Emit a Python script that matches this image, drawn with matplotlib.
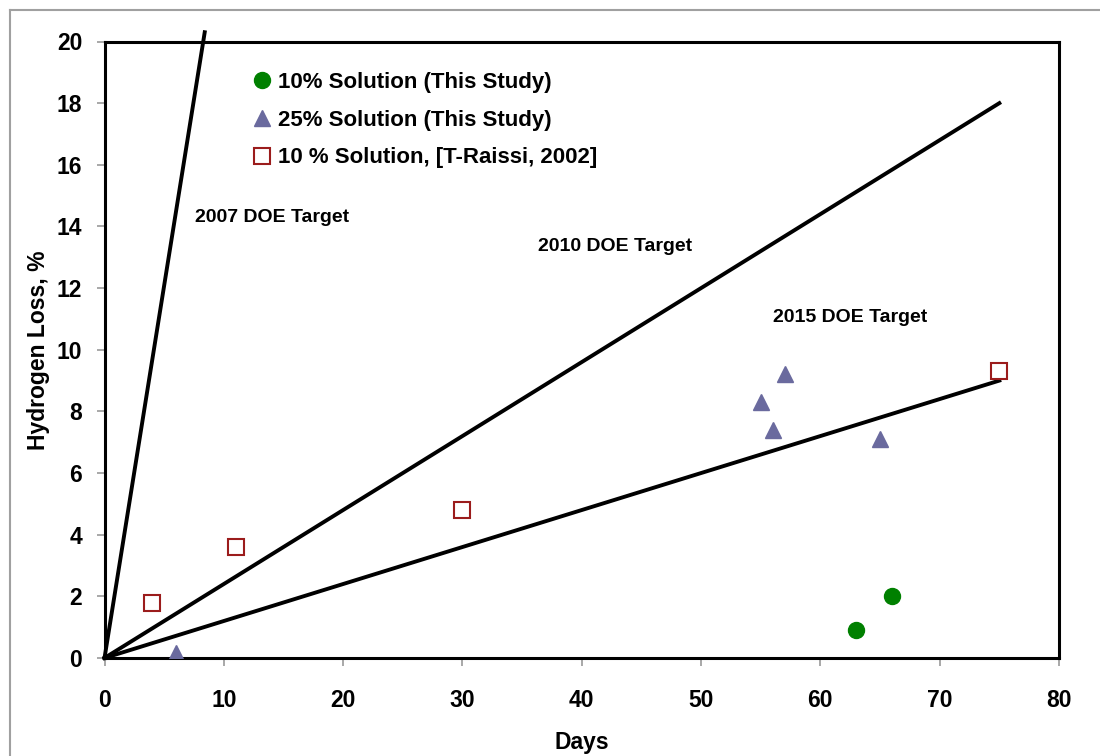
import matplotlib
matplotlib.use("Agg")
import matplotlib.pyplot as plt
from matplotlib.lines import Line2D

plt.rcParams['font.family'] = ['Liberation Sans', 'DejaVu Sans']
plt.rcParams['font.weight'] = 'bold'

# Data
sol10_days = [63, 66]
sol10_loss = [0.9, 2.0]
sol25_days = [6, 55, 56, 57, 65]
sol25_loss = [0.15, 8.3, 7.4, 9.2, 7.1]
raissi_days = [4, 11, 30, 75]
raissi_loss = [1.8, 3.6, 4.8, 9.3]

target2007_x = [0, 8.4]
target2007_y = [0, 20.3]
target2010_x = [0, 75]
target2010_y = [0, 18]
target2015_x = [0, 75]
target2015_y = [0, 9]

xticks = [0, 10, 20, 30, 40, 50, 60, 70, 80]
yticks = [0, 2, 4, 6, 8, 10, 12, 14, 16, 18, 20]

fig = plt.figure(figsize=(11, 7.56), dpi=100)
ax = fig.add_axes([104.5/1100, 1-658/756, (1059-104.5)/1100, (658-41.5)/756])

# figure border (gray)
fig.add_artist(Line2D([10/1100, 10/1100], [0, 1-10/756], color='#a0a0a0', lw=1.5, transform=fig.transFigure))
fig.add_artist(Line2D([10/1100, 1], [1-10/756, 1-10/756], color='#a0a0a0', lw=1.5, transform=fig.transFigure))

for xs, ys in [(target2007_x, target2007_y), (target2010_x, target2010_y), (target2015_x, target2015_y)]:
    ax.plot(xs, ys, color='black', lw=2.8, clip_on=False, zorder=2)

ax.plot(sol10_days, sol10_loss, 'o', color='#008000', ms=11.5, ls='none',
        label='10% Solution (This Study)', zorder=3)
ax.plot(sol25_days, sol25_loss, '^', color='#6a6a9e', ms=12, ls='none',
        label='25% Solution (This Study)', zorder=3)
ax.plot(raissi_days, raissi_loss, 's', mfc='white', mec='#9b1c1c', mew=1.5, ms=11,
        ls='none', label='10 % Solution, [T-Raissi, 2002]', zorder=3)

ax.text(7.6, 14.3, '2007 DOE Target', fontsize=14, fontweight='bold', va='center', ha='left')
ax.text(36.3, 13.35, '2010 DOE Target', fontsize=14, fontweight='bold', va='center', ha='left')
ax.text(56.0, 11.05, '2015 DOE Target', fontsize=14, fontweight='bold', va='center', ha='left')

ax.set_xlim(0, 80)
ax.set_ylim(0, 20)
ax.set_xticks(xticks)
ax.set_yticks(yticks)
ax.tick_params(axis='both', direction='out', length=6, width=1.2, color='#999999', labelsize=16.5)
ax.tick_params(axis='x', pad=16)
ax.tick_params(axis='y', pad=10)
for lab in ax.get_xticklabels() + ax.get_yticklabels():
    lab.set_fontweight('bold')

for s in ax.spines.values():
    s.set_color('black')
    s.set_linewidth(2.2)

ax.set_xlabel('Days', fontsize=16.5, fontweight='bold', labelpad=14)
ax.set_ylabel('Hydrogen Loss, %', fontsize=16.5, fontweight='bold', labelpad=5)

leg = ax.legend(loc='upper left', bbox_to_anchor=(0.144, 0.965), frameon=False,
                fontsize=16, handletextpad=0.2, handlelength=1.0, labelspacing=0.75,
                borderaxespad=0)
for t in leg.get_texts():
    t.set_fontweight('bold')

fig.savefig('out.png', dpi=100, facecolor='white')
